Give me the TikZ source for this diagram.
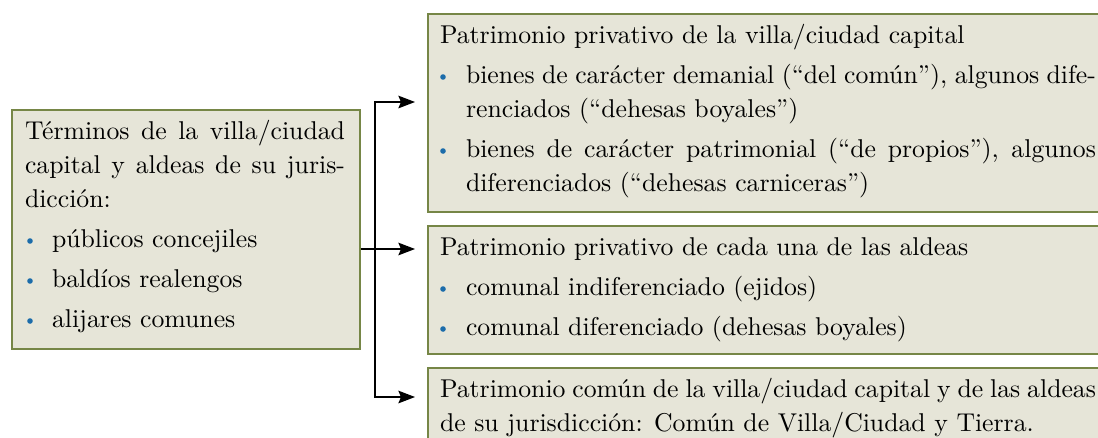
\documentclass[tikz,border=0pt]{standalone}
\usepackage{fontspec}
\setmainfont{lmroman10-regular.otf}
\usetikzlibrary{arrows.meta}
\definecolor{boxfill}{RGB}{230,229,216}
\definecolor{boxline}{RGB}{118,134,70}
\definecolor{bul}{RGB}{28,108,170}
\newcommand{\mypara}[2]{\parbox[t]{#1}{\fontsize{19.3pt}{25.5pt}\selectfont #2}}
\begin{document}
\begin{tikzpicture}[x=0.75pt,y=-0.75pt,
  panel/.style={draw=boxline, fill=boxfill, line width=1.4pt, rectangle, inner sep=0pt, anchor=north west},
  txt/.style={anchor=base west, inner sep=0pt, outer sep=0pt},
  conn/.style={draw=black, line width=0.9pt, -{Stealth[length=12.5pt,width=9.5pt,inset=2pt]}, shorten >=9pt},
  dot/.style={fill=bul, circle, inner sep=0pt, minimum size=4.2pt}]
\useasboundingbox (0,0) rectangle (1098,437);
\clip (0,0) rectangle (1098,437);
% panels
\node[panel, minimum width=261pt, minimum height=179.25pt] (left) at (11,109) {};
\node[panel, minimum width=512.25pt, minimum height=148.5pt] (top) at (427,13) {};
\node[panel, minimum width=512.25pt, minimum height=96pt] (mid) at (427,225) {};
\node[panel, minimum width=512.25pt, minimum height=90pt] (bot) at (427,367) {};
% left text
\node[txt] (l0) at (25,139) {\mypara{240pt}{Términos de la villa/ciudad\linebreak capital y aldeas de su juris-\linebreak dicción:}};
\node[txt] (l1) at (52,247) {\mypara{220pt}{públicos concejiles}};
\node[txt] (l2) at (52,287) {\mypara{220pt}{baldíos realengos}};
\node[txt] (l3) at (52,327) {\mypara{220pt}{alijares comunes}};
\node[dot] (bl1) at (30,241) {};
\node[dot] (bl2) at (30,281) {};
\node[dot] (bl3) at (30,321) {};
% top text
\node[txt] (t0) at (440,43) {\mypara{492pt}{Patrimonio privativo de la villa/ciudad capital}};
\node[txt] (t1) at (466,83) {\mypara{472.5pt}{bienes de carácter demanial (“del común”), algunos dife-\linebreak renciados (“dehesas boyales”)}};
\node[txt] (t2) at (466,157) {\mypara{472.5pt}{bienes de carácter patrimonial (“de propios”), algunos\linebreak diferenciados (“dehesas carniceras”)}};
\node[dot] (bt1) at (443,77) {};
\node[dot] (bt2) at (443,151) {};
% middle text
\node[txt] (m0) at (440,255) {\mypara{492pt}{Patrimonio privativo de cada una de las aldeas}};
\node[txt] (m1) at (466,295) {\mypara{472.5pt}{comunal indiferenciado (ejidos)}};
\node[txt] (m2) at (466,335) {\mypara{472.5pt}{comunal diferenciado (dehesas boyales)}};
\node[dot] (bm1) at (443,289) {};
\node[dot] (bm2) at (443,329) {};
% bottom text
\node[txt] (b0) at (440,397) {\mypara{492pt}{Patrimonio común de la villa/ciudad capital y de las aldeas\linebreak de su jurisdicción: Común de Villa/Ciudad y Tierra.}};
% connectors
\coordinate (jt) at (375,102);
\coordinate (jm) at (375,249);
\coordinate (jb) at (375,397);
\draw[conn] (jm) |- (jt -| top.west);
\draw[conn] (jm) |- (jb -| bot.west);
\draw[conn] (left.east |- jm) -- (jm -| mid.west);
\end{tikzpicture}
\end{document}
